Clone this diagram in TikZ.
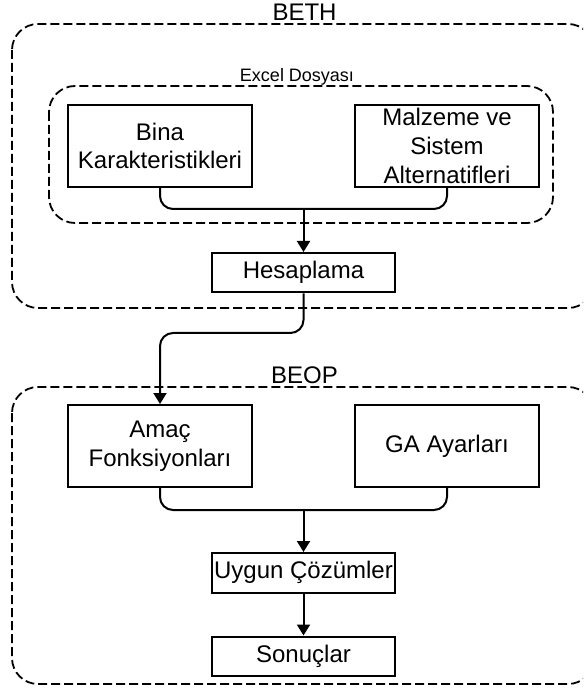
\documentclass[tikz,border=0pt]{standalone}
\usepackage{fontspec}
\setmainfont{Liberation Sans}
\usepackage{tikz}
\usetikzlibrary{arrows.meta,positioning,calc}

\begin{document}
\begin{tikzpicture}[
  node distance=21pt and 50.5pt,
  box/.style={draw,line width=1pt,inner sep=0pt,minimum width=92pt,minimum height=41pt,align=center,font=\fontsize{12}{14.3}\selectfont},
  sbox/.style={box,minimum width=91.5pt,minimum height=19.75pt},
  grp/.style={draw,line width=0.9pt,dash pattern=on 4.5pt off 2pt,rounded corners=13pt},
  ttl/.style={anchor=base,inner sep=0pt,font=\fontsize{12}{14.3}\selectfont},
  arr/.style={-{Triangle[length=5.5pt,width=6.5pt]},line width=1pt},
  lnk/.style={line width=1pt,rounded corners=6.5pt}]
  \path[use as bounding box,clip] (0,0) rectangle (291.5pt,-344pt);
  \node[box] (bina) at (80pt,-73pt) {Bina\\Karakteristikleri};
  \node[box,right=of bina] (malz) {Malzeme ve\\Sistem\\Alternatifleri};
  \coordinate (j1) at ($(bina.south)!0.5!(malz.south)+(0,-10.5pt)$);
  \node[sbox,below=21.5pt of j1] (hesap) {Hesaplama};
  \node[box,below=108pt of bina] (amac) {Amaç\\Fonksiyonları};
  \node[box,right=of amac] (ga) {GA Ayarları};
  \coordinate (j2) at ($(amac.south)!0.5!(ga.south)+(0,-11pt)$);
  \node[sbox,below=of j2] (uygun) {Uygun Çözümler};
  \node[sbox,below=of uygun] (sonuc) {Sonuçlar};
  \draw[grp] (6pt,-12pt) rectangle (297pt,-154pt);
  \draw[grp] (24.5pt,-43pt) rectangle (276.5pt,-111.5pt);
  \draw[grp] (6pt,-193.5pt) rectangle (297pt,-342pt);
  \node[ttl] (beth) at (152.25pt,-10.5pt) {BETH};
  \node[ttl,font=\fontsize{9}{10.5}\selectfont] (excel) at (148.5pt,-41pt) {Excel Dosyası};
  \node[ttl] (beop) at (152.25pt,-191.5pt) {BEOP};
  \draw[lnk] (bina.south) |- (malz.south |- j1) -- (malz.south);
  \draw[arr] (j1) -- (hesap);
  \draw[arr,rounded corners=6.5pt] (hesap.south) |- ($(amac.north)+(0,35.5pt)$) -- (amac.north);
  \draw[lnk] (amac.south) |- (ga.south |- j2) -- (ga.south);
  \draw[arr] (j2) -- (uygun);
  \draw[arr] (uygun) -- (sonuc);
\end{tikzpicture}
\end{document}
